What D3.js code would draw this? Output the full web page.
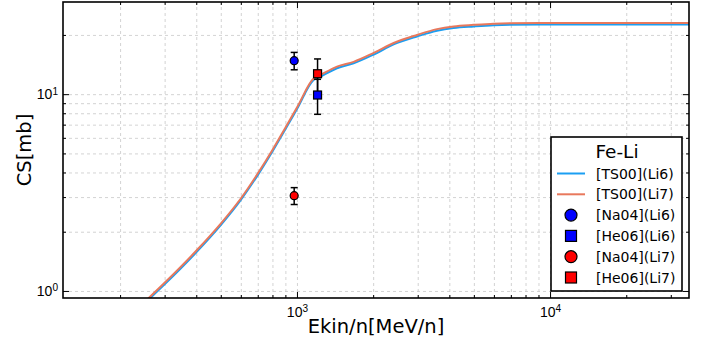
<!DOCTYPE html>
<html>
<head>
<meta charset="utf-8">
<script src="https://cdn.jsdelivr.net/npm/d3@7"></script>
<style>
  body { margin: 0; background: #fff; }
  svg { font-family: "DejaVu Sans", sans-serif; }
</style>
</head>
<body>
<div id="chart-area"></div>
<script>
// TS00 model curves (energy MeV/n, cross section mb)
var tsEnergy = [250, 300, 400, 500, 600, 700, 800, 900, 1000, 1163, 1236, 1439, 1674, 2010, 2410, 2980, 3574, 4156, 4988, 5985, 9160, 20000, 36000];
var tsLi7 = [0.88, 1.10, 1.60, 2.20, 2.95, 3.95, 5.20, 6.75, 8.55, 12.0, 12.5, 13.8, 14.6, 16.2, 18.2, 20.0, 21.4, 22.1, 22.5, 22.8, 23.0, 23.0, 23.0];
var tsLi6 = [0.865, 1.08, 1.57, 2.16, 2.90, 3.88, 5.11, 6.63, 8.40, 11.8, 12.28, 13.55, 14.35, 15.9, 17.9, 19.65, 21.0, 21.7, 22.1, 22.4, 22.6, 22.6, 22.6];

// measurements
var pointNames = ["[Na04](Li6)", "[He06](Li6)", "[Na04](Li7)", "[He06](Li7)"];
var pointE = [975, 1206, 975, 1206];
var pointCS = [14.8, 9.9, 3.05, 12.7];
var pointErr = [1.5, 2.0, 0.3, 2.4];
var pointShape = ["circle", "square", "circle", "square"];
var pointColor = ["#0000ff", "#0000ff", "#ff0000", "#ff0000"];

var lineNames = ["[TS00](Li6)", "[TS00](Li7)"];
var lineColor = ["#1b9ef2", "#e8785c"];

var xDomain = [119, 35400];
var yDomain = [0.921, 29.4];
var xMajor = [1000, 10000];
var yMajor = [1, 10];
var xMinor = [200, 300, 400, 500, 600, 700, 800, 900, 2000, 3000, 4000, 5000, 6000, 7000, 8000, 9000, 20000, 30000];
var yMinor = [2, 3, 4, 5, 6, 7, 8, 9, 20];

var margin = {left: 63, right: 20, top: 2, bottom: 41};
var W = 709, H = 339;
var width = W - margin.left - margin.right,
    height = H - margin.top - margin.bottom;

var svg = d3.select("#chart-area").append("svg").attr("width", W).attr("height", H);
var g = svg.append("g").attr("transform", "translate(" + margin.left + "," + margin.top + ")");

var x = d3.scaleLog().domain(xDomain).range([0, width]);
var y = d3.scaleLog().domain(yDomain).range([height, 0]);

// grid
var gridStyle = function(sel) {
  sel.select(".domain").remove();
  sel.selectAll("line").attr("stroke", "#c8c8c8").attr("stroke-width", 0.8).attr("stroke-dasharray", "3,3");
};
g.append("g").attr("transform", "translate(0," + height + ")")
  .call(d3.axisBottom(x).tickValues(xMajor.concat(xMinor)).tickSize(-height).tickFormat(""))
  .call(gridStyle);
g.append("g")
  .call(d3.axisLeft(y).tickValues(yMajor.concat(yMinor)).tickSize(-width).tickFormat(""))
  .call(gridStyle);

g.append("defs").append("clipPath").attr("id", "clip")
  .append("rect").attr("width", width).attr("height", height);

// model lines
var line = d3.line().curve(d3.curveMonotoneX)
  .x(function(d) { return x(d[0]); }).y(function(d) { return y(d[1]); });
var series = [tsLi6, tsLi7];
series.forEach(function(vals, i) {
  g.append("path")
    .datum(tsEnergy.map(function(e, j) { return [e, vals[j]]; }))
    .attr("clip-path", "url(#clip)")
    .attr("fill", "none")
    .attr("stroke", lineColor[i])
    .attr("stroke-width", 2)
    .attr("d", line);
});

// error bars + markers
var pts = pointE.map(function(e, i) {
  return {e: e, cs: pointCS[i], err: pointErr[i], shape: pointShape[i], color: pointColor[i]};
});
pts.forEach(function(d) {
  var px = x(d.e), y0 = y(d.cs - d.err), y1 = y(d.cs + d.err);
  g.append("line").attr("x1", px).attr("x2", px).attr("y1", y0).attr("y2", y1)
    .attr("stroke", "#000").attr("stroke-width", 1.5);
  [y0, y1].forEach(function(yy) {
    g.append("line").attr("x1", px - 3.5).attr("x2", px + 3.5).attr("y1", yy).attr("y2", yy)
      .attr("stroke", "#000").attr("stroke-width", 1.5);
  });
});
function drawMarker(sel, shape, color, cx, cy, s) {
  if (shape === "circle") {
    sel.append("circle").attr("cx", cx).attr("cy", cy).attr("r", s / 2)
      .attr("fill", color).attr("stroke", "#000").attr("stroke-width", 1.2);
  } else {
    sel.append("rect").attr("x", cx - s / 2).attr("y", cy - s / 2).attr("width", s).attr("height", s)
      .attr("fill", color).attr("stroke", "#000").attr("stroke-width", 1.2);
  }
}
pts.forEach(function(d) { drawMarker(g, d.shape, d.color, x(d.e), y(d.cs), 8); });

// ticks on all sides, pointing in
var tickStyle = function(sel) {
  sel.select(".domain").remove();
  sel.selectAll("line").attr("stroke", "#000").attr("stroke-width", 1);
};
var supLabel = function(sel) {
  sel.selectAll("text").each(function(d) {
    var t = d3.select(this);
    var p = Math.round(Math.log10(d));
    t.text("");
    t.append("tspan").text("10");
    t.append("tspan").attr("dy", "-0.45em").attr("font-size", "0.72em").text(String(p));
  });
  sel.selectAll("text").attr("fill", "#000").attr("font-size", 14);
};
var xa = g.append("g").attr("transform", "translate(0," + height + ")")
  .call(d3.axisBottom(x).tickValues(xMajor).tickSizeInner(-6).tickSizeOuter(0).tickPadding(16))
  .call(tickStyle).call(supLabel);
xa.selectAll("text").attr("dy", "0.2em");
g.append("g").attr("transform", "translate(0," + height + ")")
  .call(d3.axisBottom(x).tickValues(xMinor).tickSize(-3).tickFormat("")).call(tickStyle);
g.append("g").call(d3.axisTop(x).tickValues(xMajor).tickSize(-6).tickFormat("")).call(tickStyle);
g.append("g").call(d3.axisTop(x).tickValues(xMinor).tickSize(-3).tickFormat("")).call(tickStyle);

g.append("g")
  .call(d3.axisLeft(y).tickValues(yMajor).tickSizeInner(-6).tickSizeOuter(0).tickPadding(5))
  .call(tickStyle).call(supLabel);
g.append("g").call(d3.axisLeft(y).tickValues(yMinor).tickSize(-3).tickFormat("")).call(tickStyle);
g.append("g").attr("transform", "translate(" + width + ",0)")
  .call(d3.axisRight(y).tickValues(yMajor).tickSize(-6).tickFormat("")).call(tickStyle);
g.append("g").attr("transform", "translate(" + width + ",0)")
  .call(d3.axisRight(y).tickValues(yMinor).tickSize(-3).tickFormat("")).call(tickStyle);

// frame
g.append("rect").attr("width", width).attr("height", height)
  .attr("fill", "none").attr("stroke", "#000").attr("stroke-width", 1.6);

// axis labels
svg.append("text").attr("x", 376).attr("y", 333)
  .attr("text-anchor", "middle").attr("font-size", 19.5).text("Ekin/n[MeV/n]");
svg.append("text").attr("transform", "translate(31," + (margin.top + height / 2) + ") rotate(-90)")
  .attr("text-anchor", "middle").attr("font-size", 19.5).text("CS[mb]");

// legend
var legend = svg.append("g").attr("transform", "translate(551,137)");
legend.append("rect").attr("width", 131).attr("height", 154)
  .attr("fill", "#fff").attr("stroke", "#000").attr("stroke-width", 1.6);
legend.append("text").attr("x", 66).attr("y", 21).attr("text-anchor", "middle")
  .attr("font-size", 18.5).text("Fe-Li");
var rowY = function(i) { return 36.5 + i * 20.8; };
lineNames.forEach(function(name, i) {
  legend.append("line").attr("x1", 6).attr("x2", 34).attr("y1", rowY(i)).attr("y2", rowY(i))
    .attr("stroke", lineColor[i]).attr("stroke-width", 2);
  legend.append("text").attr("x", 45).attr("y", rowY(i) + 5).attr("font-size", 14).text(name);
});
pointNames.forEach(function(name, i) {
  var r = i + 2;
  drawMarker(legend, pointShape[i], pointColor[i], 20, rowY(r), pointShape[i] === "circle" ? 12 : 11);
  legend.append("text").attr("x", 45).attr("y", rowY(r) + 5).attr("font-size", 14).text(name);
});
</script>
</body>
</html>
